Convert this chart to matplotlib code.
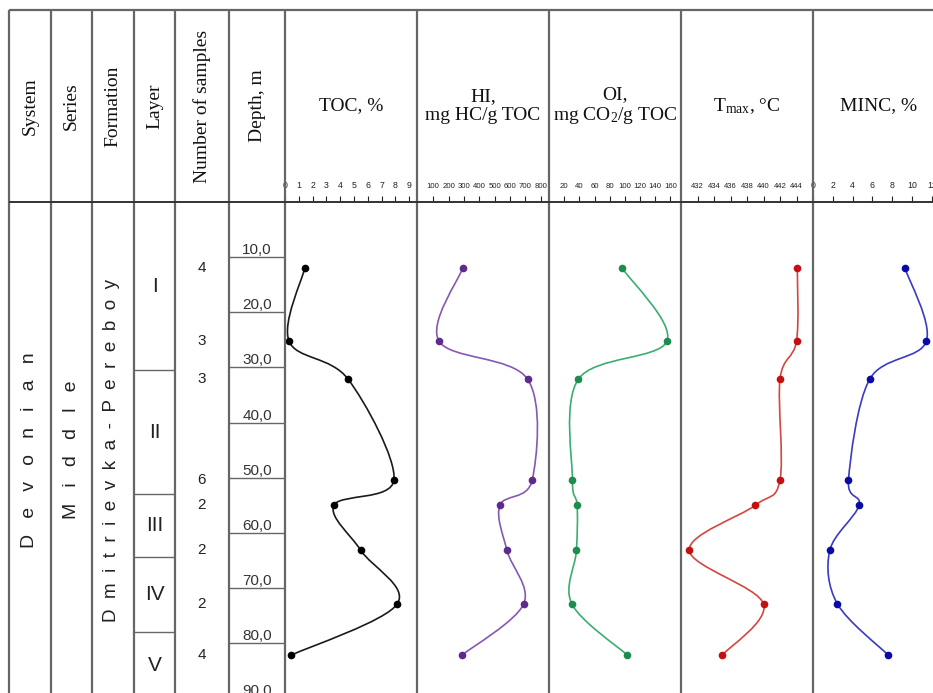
import numpy as np
import matplotlib
matplotlib.use("Agg")
from matplotlib import pyplot as plt
from matplotlib.path import Path
from matplotlib.patches import PathPatch

plt.rcParams['font.family'] = ['Liberation Serif', 'DejaVu Serif']
plt.rcParams['mathtext.default'] = 'regular'

# sample depths (m) and measured values
depth = [12.0, 25.2, 32.1, 50.4, 55.0, 63.2, 72.9, 82.2]
samples = [4, 3, 3, 6, 2, 2, 2, 4]
toc = [1.43, 0.29, 4.57, 7.90, 3.55, 5.50, 8.14, 0.46]
hi = [291, 137, 714, 745, 534, 580, 689, 287]
oi = [96.7, 155.5, 38.8, 30.9, 37.1, 36.2, 30.1, 103.3]
tmax = [444.1, 444.0, 442.0, 442.0, 439.0, 431.0, 440.0, 435.0]
minc = [9.3, 11.45, 5.73, 3.58, 4.65, 1.69, 2.46, 7.6]

# layers
layer_names = ['I', 'II', 'III', 'IV', 'V']
layer_bounds = [0, 30.5, 53.0, 64.4, 78.0, 90.0]
depth_marks = [10, 20, 30, 40, 50, 60, 70, 80, 90]

W, H = 933, 693
fig = plt.figure(figsize=(W / 100, H / 100), dpi=100)

# vertical placement of the depth scale (pixels)
y_top = 202.2
y_bot = 202.2 + 90 * 5.51


def rect(x0, x1):
    return [x0 / W, 1 - y_bot / H, (x1 - x0) / W, (y_bot - y_top) / H]


def smooth_path(xs, ys):
    # bezier curve through the points (like a smoothed scatter line)
    p = np.column_stack([xs, ys]).astype(float)
    ext = np.vstack([p[0], p, p[-1]])
    verts = [p[0]]
    codes = [Path.MOVETO]
    for i in range(len(p) - 1):
        c1 = ext[i + 1] + (ext[i + 2] - ext[i]) / 6.0
        c2 = ext[i + 2] - (ext[i + 3] - ext[i + 1]) / 6.0
        verts += [c1, c2, p[i + 1]]
        codes += [Path.CURVE4] * 3
    return Path(verts, codes)


logs = [
    (toc, 285, 417, (0, 9.57), list(range(0, 10)), '#1a1a1a', '#000000', 6.3),
    (hi, 417, 549, (-6, 854), list(range(100, 900, 100)), '#8558b5', '#5e2b8c', 5.6),
    (oi, 549, 681, (0, 174), list(range(20, 180, 20)), '#3aae70', '#1e8c4e', 5.6),
    (tmax, 681, 813, (430, 446), list(range(432, 446, 2)), '#d4463f', '#c41010', 5.5),
    (minc, 813, 945, (0, 13.33), list(range(0, 14, 2)), '#3a3ac4', '#0a0aa8', 6.3),
]

for vals, x0, x1, xl, ticks, lc, mc, fs in logs:
    ax = fig.add_axes(rect(x0, x1))
    ax.set_facecolor('none')
    ax.set_xlim(*xl)
    ax.set_ylim(90, 0)
    for s in ax.spines.values():
        s.set_visible(False)
    ax.xaxis.tick_top()
    ax.set_xticks(ticks)
    ax.set_xticklabels([str(t) for t in ticks], family='Liberation Sans')
    ax.tick_params(axis='x', direction='out', length=4.5, width=0.8, pad=4.5,
                   labelsize=fs, colors='#222222')
    ax.set_yticks([])
    ax.add_patch(PathPatch(smooth_path(vals, depth), fill=False, edgecolor=lc, lw=1.2))
    ax.plot(vals, depth, 'o', color=mc, ms=4.5, ls='none')

# stratigraphy columns drawn against depth
sx = fig.add_axes(rect(9, 285))
sx.set_facecolor('none')
sx.set_xlim(9, 285)
sx.set_ylim(90, 0)
sx.axis('off')
sans = 'Liberation Sans'
for d in depth_marks:
    sx.hlines(d, 229, 285, color='#666666', lw=1.0)
    sx.text(257, d, '%d,0' % d, ha='center', va='bottom', fontsize=11, family=sans, color='#333333')
for b in layer_bounds[1:-1]:
    sx.hlines(b, 134, 175, color='#666666', lw=1.0)
for i, name in enumerate(layer_names):
    mid = (layer_bounds[i] + layer_bounds[i + 1]) / 2
    sx.text(154.5, mid, name, ha='center', va='center', fontsize=15, family=sans, color='#222222')
for d, n in zip(depth, samples):
    sx.text(202, d, str(n), ha='center', va='center', fontsize=11, family=sans, color='#222222')
sx.text(30, 45, '   '.join('Devonian'), rotation=90, ha='center', va='center',
        fontsize=14, family=sans, color='#222222')
sx.text(71.5, 45, '   '.join('Middle'), rotation=90, ha='center', va='center',
        fontsize=14, family=sans, color='#222222')
sx.text(112, 45, '  '.join('Dmitrievka-Pereboy'), rotation=90, ha='center', va='center',
        fontsize=13.6, family=sans, color='#222222')

# table frame and headers
ov = fig.add_axes([0, 0, 1, 1])
ov.set_facecolor('none')
ov.set_xlim(0, W)
ov.set_ylim(H, 0)
ov.axis('off')
cols = [9, 51, 92, 134, 175, 229, 285, 417, 549, 681, 813]
for x in cols:
    ov.vlines(x, 10, H, color='#666666', lw=1.6)
ov.hlines(10, 9, W, color='#666666', lw=1.6)
ov.hlines(202, 9, W, color='#333333', lw=1.4)

rot_heads = ['System', 'Series', 'Formation', 'Layer', 'Number of samples', 'Depth, m']
for i, t in enumerate(rot_heads):
    xc = (cols[i] + cols[i + 1]) / 2
    ov.text(xc, 106, t, rotation=90, ha='center', va='center', fontsize=14, color='#111111')

log_heads = ['TOC, %', 'HI,\nmg HC/g TOC', 'OI,\nmg CO$_2$/g TOC',
             'T$_{max}$, °C', 'MINC, %']
log_x = [285, 417, 549, 681, 813, 945]
for i, t in enumerate(log_heads):
    xc = (log_x[i] + log_x[i + 1]) / 2
    ov.text(xc, 106, t, ha='center', va='center', fontsize=14, color='#111111',
            linespacing=1.15)

plt.savefig('out.png', dpi=100)
